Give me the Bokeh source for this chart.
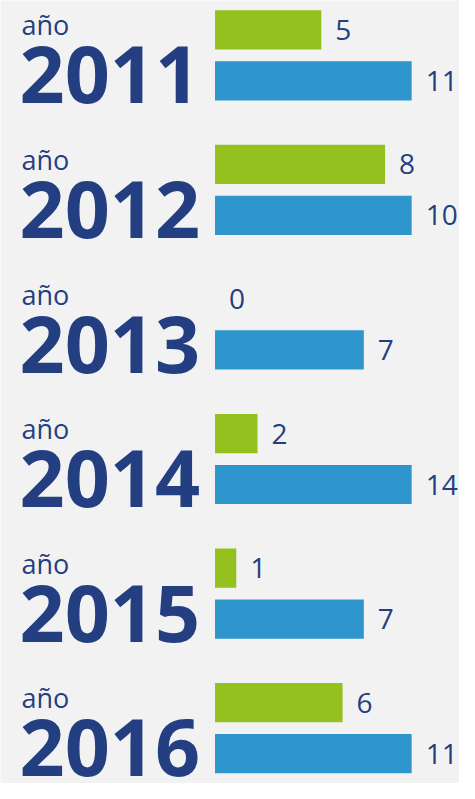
from bokeh.plotting import figure
from bokeh.models import Range1d, ColumnDataSource
from bokeh.core.properties import value
from bokeh.embed import file_html
from bokeh.resources import INLINE
import numpy as np

# ---- data ----
years = ["2011", "2012", "2013", "2014", "2015", "2016"]
prefix = ["año"] * 6
green_values = [5, 8, 0, 2, 1, 6]
blue_values = [11, 10, 7, 14, 7, 11]

# ---- styling / layout constants ----
BG = "#f2f2f2"
GREEN = "#95c11f"
BLUE = "#2e96cd"
NAVY = "#243f81"
FONT = value("Open Sans")

W, H = 459, 783
SX, SY = W / 475.0, H / 799.0

PX_PER_UNIT = 22.0 * SX     # horizontal scale, px per unit value
BAR_CAP = 9.25              # longest drawn bar (values beyond are capped)
X0_PX = 222 * SX            # px where value 0 sits
ROW = 137.3 * SY            # px between groups
G0_PX = 30 * SY             # px of first green bar centre

x_start = -X0_PX / PX_PER_UNIT
x_end = (W - X0_PX) / PX_PER_UNIT
y_top = -G0_PX / ROW
y_bot = (H - G0_PX) / ROW

p = figure(width=W, height=H, output_backend="svg", toolbar_location=None,
           x_range=Range1d(x_start, x_end), y_range=Range1d(y_bot, y_top),
           min_border=0)
p.axis.visible = False
p.grid.visible = False
p.outline_line_color = None
p.background_fill_color = BG
p.border_fill_color = BG

idx = np.arange(len(years))
blue_dy = 52 * SY / ROW
bar_h = 40 * SY / ROW

g = np.array(green_values, dtype=float)
b = np.array(blue_values, dtype=float)
g_len = np.minimum(g, BAR_CAP)
b_len = np.minimum(b, BAR_CAP)

src_g = ColumnDataSource(dict(y=idx, right=g_len, lab=[str(v) for v in green_values]))
src_b = ColumnDataSource(dict(y=idx + blue_dy, right=b_len, lab=[str(v) for v in blue_values]))

p.hbar(y="y", left=0, right="right", height=bar_h, source=src_g,
       fill_color=GREEN, line_color=None)
p.hbar(y="y", left=0, right="right", height=bar_h, source=src_b,
       fill_color=BLUE, line_color=None)

for src in (src_g, src_b):
    p.text(x="right", y="y", text="lab", source=src, x_offset=14,
           text_baseline="middle", text_align="left", text_font=FONT,
           text_font_size="28px", text_color=NAVY)

src_lbl = ColumnDataSource(dict(x=[x_start] * len(years),
                                y1=idx - 5 * SY / ROW, y2=idx + 46 * SY / ROW,
                                pre=prefix, yr=years))
p.text(x="x", y="y1", text="pre", source=src_lbl, x_offset=21,
       text_baseline="middle", text_align="left", text_font=FONT,
       text_font_size="27px", text_color=NAVY)
p.text(x="x", y="y2", text="yr", source=src_lbl, x_offset=19,
       text_baseline="middle", text_align="left", text_font=FONT,
       text_font_style="bold", text_font_size="79px", text_color=NAVY)

html = file_html(p, INLINE)
html = html.replace("<body>", '<body style="background-color:%s;">' % BG, 1)
open("out.html", "w").write(html)
